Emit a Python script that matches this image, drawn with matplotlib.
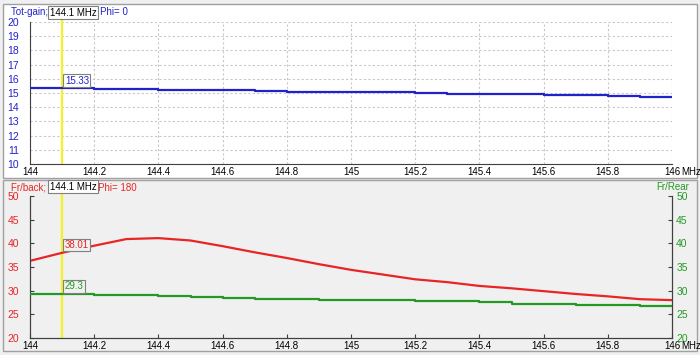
import numpy as np
import matplotlib
matplotlib.use("Agg")
import matplotlib.pyplot as plt
from matplotlib.patches import Rectangle
from matplotlib.transforms import blended_transform_factory

plt.rcParams['font.family'] = ['Liberation Sans', 'DejaVu Sans']
plt.rcParams['font.size'] = 7

# Data (0.1 MHz steps)
freq = [144.0, 144.1, 144.2, 144.3, 144.4, 144.5, 144.6, 144.7, 144.8, 144.9, 145.0,
        145.1, 145.2, 145.3, 145.4, 145.5, 145.6, 145.7, 145.8, 145.9, 146.0]
tot_gain = [15.33, 15.33, 15.29, 15.29, 15.22, 15.22, 15.22, 15.15, 15.10, 15.10, 15.05,
            15.05, 15.01, 14.96, 14.96, 14.91, 14.84, 14.84, 14.80, 14.73, 14.73]
fr_back = [36.3, 38.0, 39.5, 40.9, 41.1, 40.6, 39.4, 38.1, 36.9, 35.6, 34.4,
           33.4, 32.4, 31.8, 31.0, 30.5, 29.9, 29.3, 28.8, 28.2, 28.0]
fr_rear = [29.3, 29.3, 29.1, 29.1, 28.8, 28.6, 28.4, 28.25, 28.25, 28.1, 28.0,
           27.95, 27.75, 27.75, 27.55, 27.25, 27.25, 27.05, 27.05, 26.85, 26.85]
cursor_f = 144.1
cursor_gain = "15.33"
cursor_fb = "38.01"
cursor_fr = "29.3"
xticks = [144, 144.2, 144.4, 144.6, 144.8, 145, 145.2, 145.4, 145.6, 145.8, 146]
xticklabels = ["144", "144.2", "144.4", "144.6", "144.8", "145", "145.2", "145.4", "145.6", "145.8", "146"]

BLUE = '#2222cc'
RED = '#e82525'
GREEN = '#249a24'
YELLOW = '#f2f22a'
PANEL_BG = '#f0f0f0'
W, H = 700, 355
FS = 7


def fx(px):
    return px / W


def fy(py):
    return 1 - py / H


fig = plt.figure(figsize=(7, 3.55), dpi=100, facecolor=PANEL_BG)

# panel backgrounds (below the axes)
fig.patches.append(Rectangle((fx(3), fy(178)), fx(694), 174 / H, transform=fig.transFigure,
                             facecolor='white', edgecolor='#a0a0a0', lw=1, zorder=-5))
fig.patches.append(Rectangle((fx(3), fy(351)), fx(694), 171 / H, transform=fig.transFigure,
                             facecolor=PANEL_BG, edgecolor='#a0a0a0', lw=1, zorder=-5))

ax_t = fig.add_axes([fx(30), fy(164), fx(642), 142 / H])
ax_b = fig.add_axes([fx(30), fy(338), fx(642), 142 / H])
ax_r = ax_b.twinx()

for ax in (ax_t, ax_b, ax_r):
    ax.set_facecolor('none')

# ---- top panel: total gain
ax_t.step(freq, tot_gain, where='post', color=BLUE, lw=1.6, zorder=3)
ax_t.set_xlim(144, 146)
ax_t.set_ylim(10, 20)
ax_t.set_yticks(range(10, 21))
ax_t.set_xticks(xticks)
ax_t.set_xticklabels(xticklabels)
ax_t.grid(True, color='#c8c8c8', ls=(0, (2, 2)), lw=0.8)
for s in ('top', 'right'):
    ax_t.spines[s].set_visible(False)
for s in ('left', 'bottom'):
    ax_t.spines[s].set_color('#404040')
ax_t.tick_params(axis='y', length=0, pad=8, labelcolor=BLUE, labelsize=FS + 0.5)
ax_t.tick_params(axis='x', length=0, pad=2, labelsize=FS)

# ---- bottom panel: front/back and front/rear
ax_b.plot(freq, fr_back, color=RED, lw=1.6, zorder=3)
ax_r.step(freq, fr_rear, where='post', color=GREEN, lw=1.6, zorder=3)
ax_b.set_xlim(144, 146)
ax_b.set_ylim(20, 50)
ax_r.set_ylim(20, 50)
ax_b.set_yticks(range(20, 51, 5))
ax_r.set_yticks(range(20, 51, 5))
ax_b.set_xticks(xticks)
ax_b.set_xticklabels(xticklabels)
for ax in (ax_b, ax_r):
    ax.spines['top'].set_visible(False)
    for s in ('left', 'bottom', 'right'):
        ax.spines[s].set_color('#404040')
ax_b.tick_params(axis='y', direction='in', length=3, pad=8, labelcolor=RED, labelsize=FS + 0.5, color='#404040')
ax_b.tick_params(axis='x', direction='in', length=3, pad=2, labelsize=FS, color='#404040')
ax_r.tick_params(axis='y', direction='in', length=3, pad=3, labelcolor=GREEN, labelsize=FS + 0.5, color='#404040')

# MHz unit after the last x tick
for ax in (ax_t, ax_b):
    ax.annotate('MHz', xy=(146, 0), xycoords=('data', 'axes fraction'), xytext=(6.5, -2),
                textcoords='offset points', ha='left', va='top', fontsize=FS)

# titles (under the cursor boxes)
fig.text(fx(11), fy(12), 'Tot-gain; Theta= 90; Phi= 0', color=BLUE, fontsize=FS, va='center', zorder=-1)
fig.text(fx(11), fy(187), 'Fr/back; Theta= 90; Phi= 180', color=RED, fontsize=FS, va='center', zorder=-1)
fig.text(fx(689), fy(187), 'Fr/Rear', color=GREEN, fontsize=FS, va='center', ha='right', zorder=-1)

# cursor
for ax in (ax_t, ax_b):
    tr = blended_transform_factory(ax.transData, ax.transAxes)
    ax.plot([cursor_f, cursor_f], [0, 1.03], transform=tr, color=YELLOW, lw=1.6,
            clip_on=False, zorder=2)
    ax.annotate(str(cursor_f) + ' MHz', xy=(cursor_f, 1.0), xycoords=tr,
                xytext=(-9, 3), textcoords='offset points', ha='left', va='bottom',
                fontsize=FS, zorder=6, annotation_clip=False,
                bbox=dict(boxstyle='square,pad=0.15', fc='white', ec='#808080', lw=0.8))


def value_box(ax, y, text, color, bg):
    ax.annotate(text, xy=(cursor_f, y), xytext=(2, 2), textcoords='offset points',
                color=color, fontsize=FS, ha='left', va='bottom', zorder=5,
                bbox=dict(boxstyle='square,pad=0.15', fc=bg, ec='#808080', lw=0.8))


value_box(ax_t, tot_gain[1], cursor_gain, BLUE, 'white')
value_box(ax_b, fr_back[1], cursor_fb, RED, PANEL_BG)
value_box(ax_r, fr_rear[1], cursor_fr, GREEN, PANEL_BG)

fig.savefig('out.png', dpi=100, facecolor=fig.get_facecolor())
